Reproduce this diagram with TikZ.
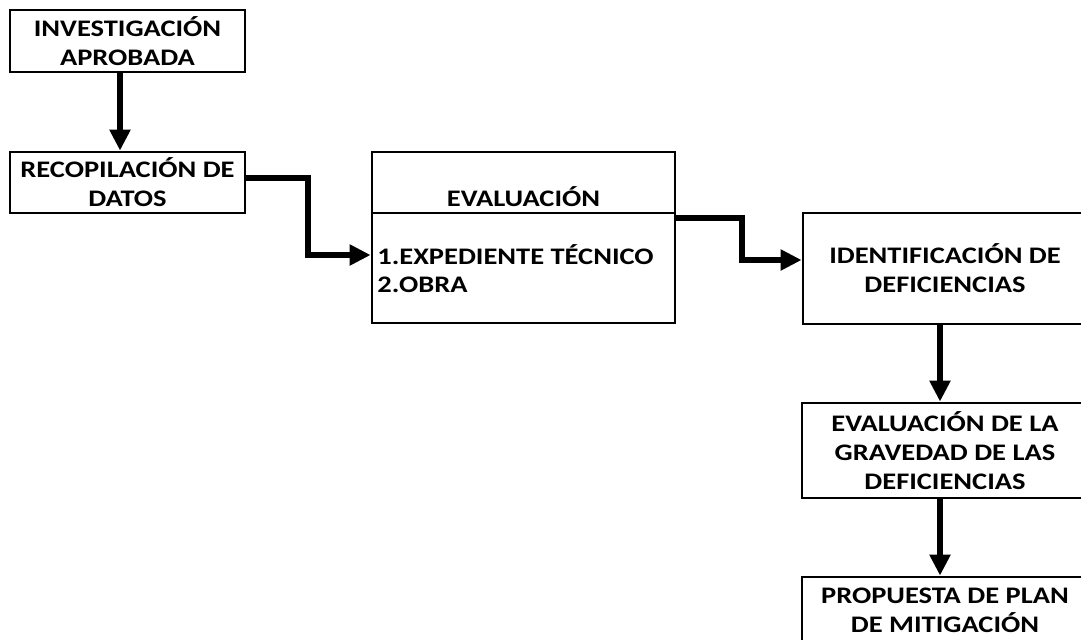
\documentclass[tikz,border=0pt]{standalone}
\usepackage{fontspec}
\setmainfont{Carlito}[FakeStretch=1.2]
\usetikzlibrary{arrows.meta}

\begin{document}
\begin{tikzpicture}[
    caja/.style={draw,line width=1.6pt,align=center,inner sep=0pt,
      font=\bfseries\fontsize{13.5}{16.5}\selectfont},
    texto/.style={inner sep=0pt,font=\bfseries\fontsize{13.5}{16.5}\selectfont},
    flecha/.style={line width=3.4pt,-{Triangle[length=0.42cm,width=0.4cm]}}
  ]
  \clip (0,0) rectangle (21.62,-12.78);
  % columna izquierda
  \node[caja,minimum width=4.7cm,minimum height=1.24cm] (inv) at (2.55,-0.82)
    {INVESTIGACIÓN\\APROBADA};
  \node[caja,minimum width=4.7cm,minimum height=1.22cm] (rec) at (2.55,-3.65)
    {RECOPILACIÓN DE\\DATOS};
  % evaluacion
  \node[caja,minimum width=6.06cm,minimum height=3.42cm] (eval) at (10.47,-4.75) {};
  \draw[line width=1.6pt] (eval.west |- 0,-4.26) -- (eval.east |- 0,-4.26);
  \node[texto] (titulo) at (10.47,-3.94) {EVALUACIÓN};
  \node[texto,anchor=west] (item1) at (7.54,-5.1) {1.EXPEDIENTE TÉCNICO};
  \node[texto,anchor=west] (item2) at (7.54,-5.7) {2.OBRA};
  % columna derecha
  \node[caja,minimum width=5.68cm,minimum height=2.22cm] (ident) at (18.9,-5.37)
    {IDENTIFICACIÓN DE\\DEFICIENCIAS};
  \node[caja,minimum width=5.72cm,minimum height=1.9cm] (grav) at (18.9,-9.01)
    {EVALUACIÓN DE LA\\GRAVEDAD DE LAS\\DEFICIENCIAS};
  \node[caja,minimum width=5.72cm,minimum height=1.32cm] (prop) at (18.9,-12.2)
    {PROPUESTA DE PLAN\\DE MITIGACIÓN};
  % flechas
  \draw[flecha] ([xshift=-0.15cm]inv.south) -- ([xshift=-0.15cm]rec.north);
  \draw[flecha] ([yshift=0.09cm]rec.east) -| (6.16,-5.1) -- (eval.west |- item1);
  \draw[flecha] ([yshift=0.39cm]eval.east) -| (14.84,-5.2) -- ([yshift=0.17cm]ident.west);
  \draw[flecha] ([xshift=-0.1cm]ident.south) -- ([xshift=-0.1cm]grav.north);
  \draw[flecha] ([xshift=-0.1cm]grav.south) -- ([xshift=-0.1cm]prop.north);
\end{tikzpicture}
\end{document}
